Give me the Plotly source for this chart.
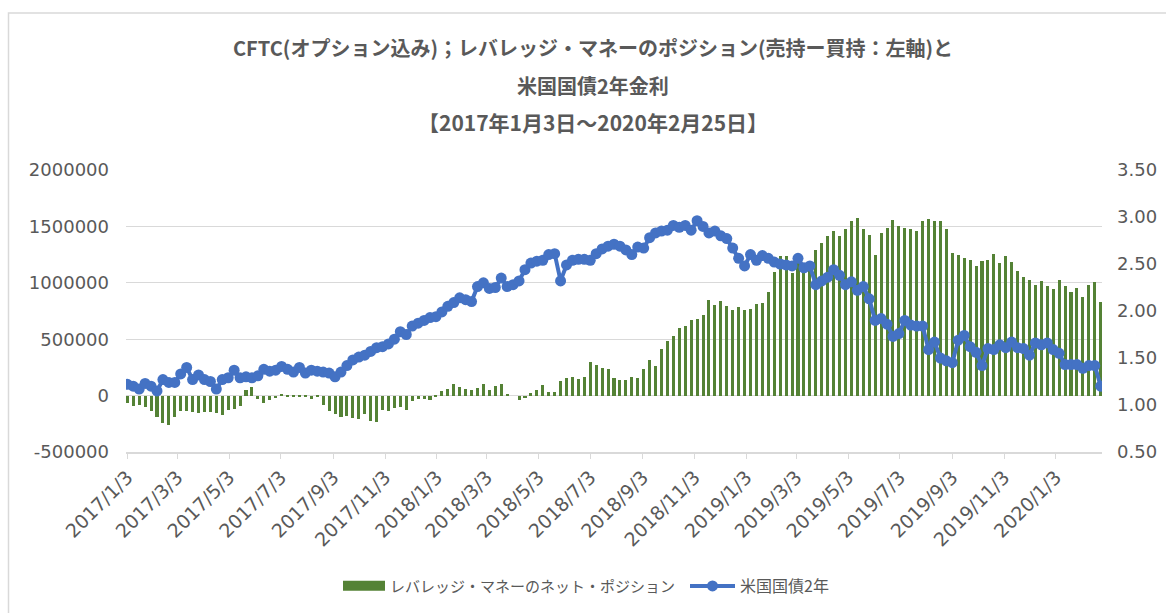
import pandas as pd
import plotly.graph_objects as go

start_date = "2017-01-03"
n_weeks = 165
dates = pd.date_range(start_date, periods=n_weeks, freq="7D")

net_position = [
    -68000, -95000, -80000, -103000, -139000, -186000, -245000, -257000, -186000, -139000,
    -133000, -148000, -157000, -143000, -148000, -157000, -168000, -128000, -118000, -89000,
    50000, 74000, -30000, -65000, -35000, -20000, 15000, -12000, -10000, -8000,
    -15000, -28000, -12000, -82000, -135000, -160000, -186000, -177000, -198000, -210000,
    -165000, -228000, -238000, -130000, -139000, -109000, -100000, -124000, -50000, -30000,
    -30000, -38000, -10000, 42000, 57000, 106000, 74000, 60000, 46000, 70000,
    106000, 47000, 83000, 100000, 12000, 0, -38000, -25000, 20000, 47000,
    92000, 31000, 28000, 130000, 155000, 162000, 148000, 166000, 297000, 267000,
    245000, 236000, 157000, 138000, 136000, 165000, 157000, 237000, 319000, 266000,
    414000, 485000, 532000, 603000, 615000, 668000, 677000, 718000, 851000, 804000,
    843000, 792000, 762000, 789000, 762000, 771000, 810000, 824000, 917000, 1093000,
    1238000, 1235000, 1085000, 1226000, 1176000, 1167000, 1290000, 1350000, 1415000, 1460000,
    1413000, 1478000, 1548000, 1572000, 1480000, 1424000, 1250000, 1442000, 1486000, 1560000,
    1508000, 1486000, 1480000, 1463000, 1545000, 1569000, 1551000, 1551000, 1480000, 1268000,
    1250000, 1220000, 1206000, 1147000, 1194000, 1206000, 1258000, 1176000, 1238000, 1184000,
    1102000, 1049000, 1024000, 984000, 1020000, 972000, 946000, 1028000, 975000, 918000,
    955000, 873000, 984000, 1010000, 827000,
]

ust_2y = [
    1.22, 1.20, 1.17, 1.23, 1.20, 1.15, 1.27, 1.24, 1.24, 1.33,
    1.40, 1.27, 1.32, 1.27, 1.25, 1.17, 1.27, 1.29, 1.37, 1.29,
    1.30, 1.29, 1.31, 1.38, 1.36, 1.37, 1.41, 1.38, 1.35, 1.40,
    1.34, 1.37, 1.36, 1.35, 1.34, 1.30, 1.35, 1.42, 1.48, 1.51,
    1.53, 1.57, 1.61, 1.62, 1.65, 1.70, 1.78, 1.75, 1.84, 1.87,
    1.90, 1.93, 1.94, 1.99, 2.05, 2.09, 2.14, 2.12, 2.10, 2.26,
    2.30, 2.24, 2.25, 2.35, 2.26, 2.28, 2.32, 2.44, 2.51, 2.53,
    2.54, 2.60, 2.61, 2.32, 2.49, 2.54, 2.55, 2.55, 2.54, 2.61,
    2.66, 2.69, 2.71, 2.69, 2.65, 2.60, 2.68, 2.67, 2.78, 2.83,
    2.85, 2.86, 2.91, 2.89, 2.91, 2.86, 2.96, 2.90, 2.83, 2.85,
    2.80, 2.77, 2.67, 2.56, 2.48, 2.60, 2.54, 2.59, 2.56, 2.52,
    2.50, 2.49, 2.48, 2.56, 2.46, 2.48, 2.28, 2.32, 2.36, 2.44,
    2.38, 2.28, 2.31, 2.22, 2.26, 2.13, 1.90, 1.92, 1.86, 1.73,
    1.76, 1.90, 1.85, 1.84, 1.84, 1.59, 1.67, 1.50, 1.47, 1.45,
    1.69, 1.74, 1.62, 1.56, 1.42, 1.60, 1.59, 1.64, 1.61, 1.67,
    1.61, 1.60, 1.53, 1.66, 1.64, 1.66, 1.59, 1.55, 1.43, 1.43,
    1.43, 1.39, 1.42, 1.42, 1.20,
]

x_tick_dates = [
    "2017-01-03", "2017-03-03", "2017-05-03", "2017-07-03", "2017-09-03", "2017-11-03",
    "2018-01-03", "2018-03-03", "2018-05-03", "2018-07-03", "2018-09-03", "2018-11-03",
    "2019-01-03", "2019-03-03", "2019-05-03", "2019-07-03", "2019-09-03", "2019-11-03",
    "2020-01-03",
]
x_tick_labels = [
    "2017/1/3", "2017/3/3", "2017/5/3", "2017/7/3", "2017/9/3", "2017/11/3",
    "2018/1/3", "2018/3/3", "2018/5/3", "2018/7/3", "2018/9/3", "2018/11/3",
    "2019/1/3", "2019/3/3", "2019/5/3", "2019/7/3", "2019/9/3", "2019/11/3",
    "2020/1/3",
]
left_tick_vals = [-500000, 0, 500000, 1000000, 1500000, 2000000]
left_tick_labels = ["-500000", "0", "500000", "1000000", "1500000", "2000000"]
right_tick_vals = [0.5, 1.0, 1.5, 2.0, 2.5, 3.0, 3.5]
right_tick_labels = ["0.50", "1.00", "1.50", "2.00", "2.50", "3.00", "3.50"]

title_lines = [
    "CFTC(オプション込み)；レバレッジ・マネーのポジション(売持ー買持：左軸)と",
    "米国国債2年金利",
    "【2017年1月3日～2020年2月25日】",
]
bar_name = "レバレッジ・マネーのネット・ポジション"
line_name = "米国国債2年"

W, H = 1166, 613
ML, MR, MT, MB = 126, 64, 170, 161
PW = W - ML - MR
PH = H - MT - MB


def px_x(p):
    return (p - ML) / PW


def px_y(p):
    return (H - MB - p) / PH


GREY = "#595959"
GRID = "#d9d9d9"
GREEN = "#548235"
BLUE = "#4472C4"
TICK_FONT = dict(family="DejaVu Sans", size=18, color=GREY)
XTICK_FONT = dict(family="DejaVu Sans", size=19, color=GREY)
JP_FONT = "Noto Sans CJK JP"

fig = go.Figure()
fig.add_trace(go.Bar(
    x=dates, y=net_position, name=bar_name,
    marker=dict(color=GREEN, line=dict(width=0)),
    width=3.6 * 86400000, yaxis="y", showlegend=False,
))
# legend entry for the bars (wide swatch like the original)
fig.add_trace(go.Scatter(
    x=[None], y=[None], name=bar_name, mode="lines",
    line=dict(color=GREEN, width=12), yaxis="y", showlegend=True,
    legend="legend",
))
fig.add_trace(go.Scatter(
    x=dates, y=ust_2y, name=line_name, mode="lines+markers",
    line=dict(color=BLUE, width=4),
    marker=dict(color=BLUE, size=11),
    yaxis="y2", legend="legend2",
))

annotations = []
for txt, py, fs in zip(title_lines, [48, 85, 122], [20, 20, 21]):
    annotations.append(dict(
        text="<b>" + txt + "</b>", xref="paper", yref="paper",
        x=px_x(593), y=px_y(py), xanchor="center", yanchor="middle",
        showarrow=False, font=dict(family=JP_FONT, size=fs, color=GREY),
    ))

fig.update_layout(
    width=W, height=H,
    margin=dict(l=ML, r=MR, t=MT, b=MB, autoexpand=False),
    paper_bgcolor="white", plot_bgcolor="white",
    bargap=0,
    showlegend=True,
    legend=dict(
        orientation="h", x=px_x(338), y=px_y(586), xanchor="left", yanchor="middle",
        font=dict(family=JP_FONT, size=15, color=GREY),
        itemwidth=42, bgcolor="rgba(0,0,0,0)",
    ),
    legend2=dict(
        orientation="h", x=px_x(685), y=px_y(586), xanchor="left", yanchor="middle",
        font=dict(family=JP_FONT, size=16, color=GREY),
        itemwidth=45, bgcolor="rgba(0,0,0,0)",
    ),
    xaxis=dict(
        type="date",
        range=["2017-01-01 11:00", "2020-02-26 13:00"],
        tickmode="array", tickvals=x_tick_dates, ticktext=x_tick_labels,
        tickangle=-45, tickfont=XTICK_FONT,
        ticks="outside", ticklen=5, tickcolor=GRID, tickwidth=1,
        showline=True, linecolor=GRID, linewidth=1.5,
        showgrid=False, zeroline=False, automargin=False,
    ),
    yaxis=dict(
        range=[-500000, 2000000],
        tickmode="array", tickvals=left_tick_vals, ticktext=left_tick_labels,
        tickfont=TICK_FONT, showgrid=True, gridcolor=GRID, gridwidth=1.3,
        zeroline=False, showline=False, ticks="", ticklabelstandoff=16,
        automargin=False,
    ),
    yaxis2=dict(
        range=[0.5, 3.5], overlaying="y", side="right",
        tickmode="array", tickvals=right_tick_vals, ticktext=right_tick_labels,
        tickfont=TICK_FONT, showgrid=False, zeroline=False, showline=False,
        ticks="", ticklabelstandoff=14, automargin=False,
    ),
    annotations=annotations,
    shapes=[dict(
        type="rect", xref="paper", yref="paper",
        x0=px_x(8.5), x1=px_x(1180), y0=px_y(13), y1=px_y(630),
        line=dict(color=GRID, width=1.5), fillcolor="rgba(0,0,0,0)", layer="below",
    )],
)

fig.write_html(
    "out.html",
    config={"displayModeBar": False},
    post_script="document.body.style.margin='0';document.body.style.overflow='hidden';",
)
